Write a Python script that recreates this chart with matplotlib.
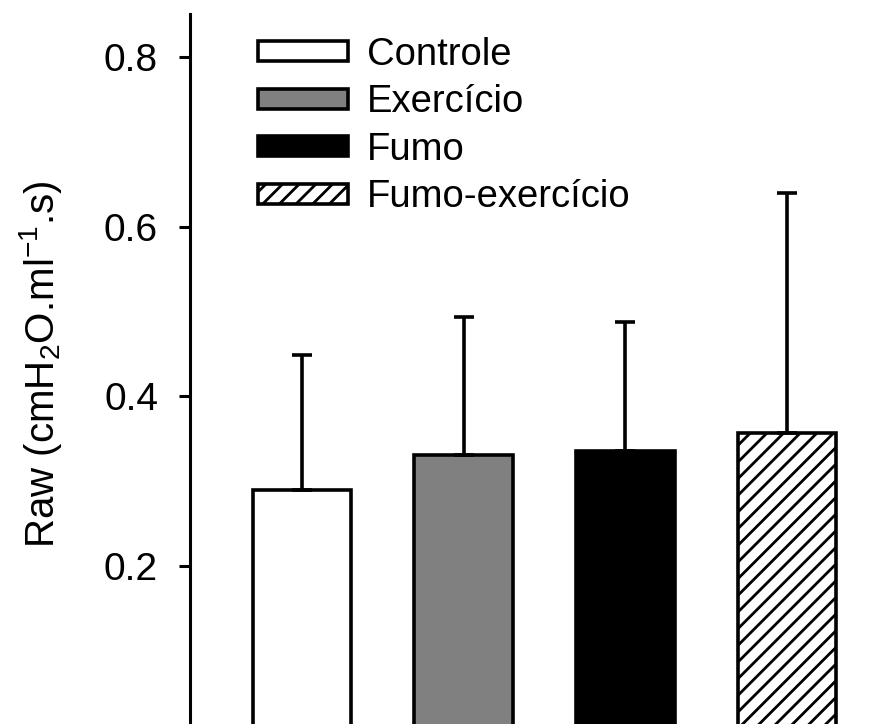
import matplotlib
matplotlib.use("Agg")
import matplotlib.pyplot as plt
import numpy as np

categories = ["Controle", "Exercício", "Fumo", "Fumo-exercício"]
means = [0.290, 0.331, 0.336, 0.357]
sem = [0.159, 0.162, 0.152, 0.283]
facecolors = ["white", "#808080", "black", "white"]
hatches = ["", "", "", "//"]
yticks = [0.2, 0.4, 0.6, 0.8]

plt.rcParams["font.family"] = ["Liberation Sans", "DejaVu Sans"]
plt.rcParams["mathtext.fontset"] = "custom"
plt.rcParams["mathtext.rm"] = "Liberation Sans"
plt.rcParams["mathtext.it"] = "Liberation Sans"
plt.rcParams["hatch.linewidth"] = 2.0

fig = plt.figure(figsize=(8.9, 7.24), dpi=100)
ax = fig.add_axes([190 / 890, 0.0, 1 - 190 / 890, (724 - 14) / 724])

x = np.arange(len(categories))
for i in range(len(categories)):
    ax.bar(x[i], means[i], width=0.61, color=facecolors[i], edgecolor="black",
           linewidth=2.6, hatch=hatches[i], label=categories[i], zorder=2)

ax.errorbar(x, means, yerr=[np.zeros(len(sem)), sem], fmt="none", ecolor="black",
            elinewidth=2.6, capsize=7.2, capthick=2.6, zorder=3)

ax.set_xlim(-0.693, 3.636)
ax.set_ylim(0.0137, 0.8507)
ax.set_yticks(yticks)
ax.set_yticklabels([f"{t:.1f}" for t in yticks], fontsize=28)
ax.set_xticks([])
for s in ["top", "right", "bottom"]:
    ax.spines[s].set_visible(False)
ax.spines["left"].set_linewidth(2.2)
ax.tick_params(axis="y", direction="out", length=8, width=2.2, pad=15)

ax.set_ylabel(r"Raw (cmH$_2$O.ml$^{-1}$.s)", fontsize=29)
ax.yaxis.set_label_coords(-(190 - 64) / 700, (724 - 364) / 710)

leg = ax.legend(loc="upper left", bbox_to_anchor=(258 / 890, (724 - 37) / 724),
                bbox_transform=fig.transFigure, frameon=False, fontsize=27.5,
                handlelength=2.35, handleheight=0.42, handletextpad=0.5,
                labelspacing=0.3, borderpad=0, borderaxespad=0)

fig.savefig("out.png", dpi=100)
